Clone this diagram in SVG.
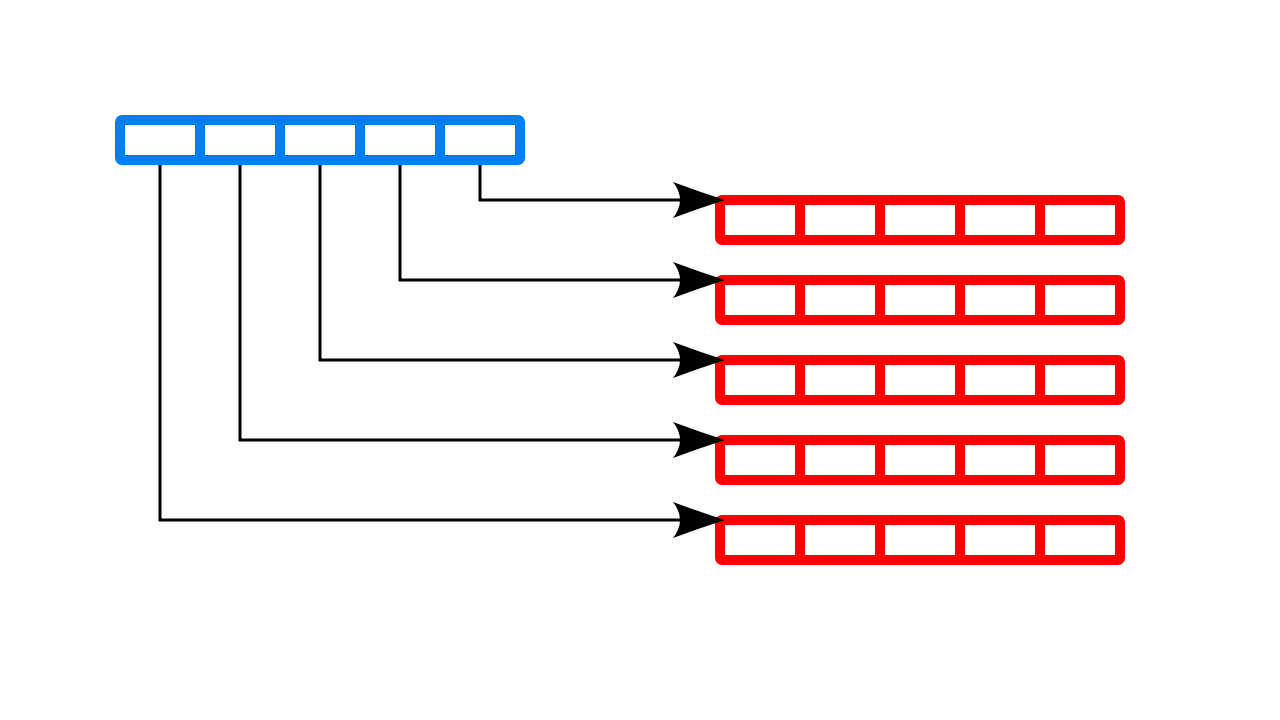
<svg xmlns="http://www.w3.org/2000/svg" width="1280" height="720" viewBox="0 0 1280 720">
<defs>
<style>
.blue{fill:none;stroke:#0080f0;stroke-width:10;stroke-linejoin:round}
.red{fill:none;stroke:#ff0000;stroke-width:10;stroke-linejoin:round}
.conn{fill:none;stroke:#000;stroke-width:3}
</style>
<marker id="ah" markerUnits="userSpaceOnUse" markerWidth="60" markerHeight="50" viewBox="-50 -25 60 50" refX="0" refY="0" orient="auto" overflow="visible">
<path d="M5,0 Q-20,-8 -47,-18 Q-33,0 -47,18 Q-20,8 5,0 Z" fill="#000"/>
</marker>
<g id="row">
<rect x="0" y="0" width="400" height="40" rx="2"/>
<path d="M80,0V40M160,0V40M240,0V40M320,0V40"/>
</g>
</defs>
<rect width="1280" height="720" fill="#fff"/>
<g id="source" class="blue"><use href="#row" x="120" y="120"/></g>
<g id="target1" class="red"><use href="#row" x="720" y="200"/></g>
<g id="target2" class="red"><use href="#row" x="720" y="280"/></g>
<g id="target3" class="red"><use href="#row" x="720" y="360"/></g>
<g id="target4" class="red"><use href="#row" x="720" y="440"/></g>
<g id="target5" class="red"><use href="#row" x="720" y="520"/></g>
<g id="connectors" class="conn">
<path d="M480,165V200H720" marker-end="url(#ah)"/>
<path d="M400,165V280H720" marker-end="url(#ah)"/>
<path d="M320,165V360H720" marker-end="url(#ah)"/>
<path d="M240,165V440H720" marker-end="url(#ah)"/>
<path d="M160,165V520H720" marker-end="url(#ah)"/>
</g>
</svg>
